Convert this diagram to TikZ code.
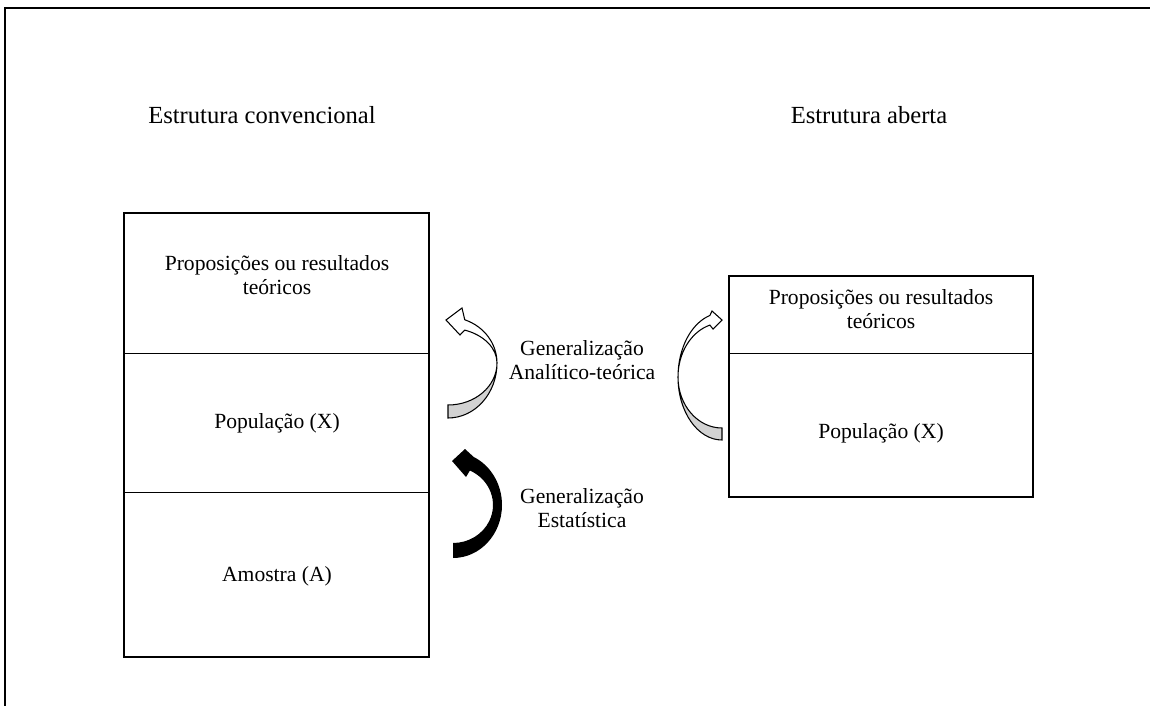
\documentclass[tikz,border=0pt]{standalone}
\usepackage{fontspec}
\setmainfont{Liberation Serif}
\usepackage{tikz}
\usetikzlibrary{calc, positioning}

\begin{document}
\begin{tikzpicture}[x=0.02cm, y=0.02cm]
	\tikzstyle{frame}=[line width=1.2pt]
	\tikzstyle{boxc}=[line width=1.4pt]
	\tikzstyle{sepc}=[line width=0.5pt]
	\tikzstyle{titlec}=[font=\fontsize{14}{17}\selectfont]
	\tikzstyle{lblc}=[align=center, font=\fontsize{12.3}{13.8}\selectfont]
	\tikzstyle{arrc}=[line width=0.6pt, draw=black]
	\useasboundingbox (0,0) rectangle (1150,-706);
	
	% outer frame
	\draw[frame] (5,-706) -- (5,-8) -- (1150,-8);
	
	% titles
	\node[titlec] (tconv) at (262,-115) {Estrutura convencional};
	\node[titlec] (taberta) at (869,-115) {Estrutura aberta};
	
	% conventional structure
	\draw[sepc] (124,-353) -- (429,-353);
	\draw[sepc] (124,-492) -- (429,-492);
	\draw[boxc] (124,-213) rectangle (429,-657);
	\node[lblc] (propc) at (277,-275) {Proposições ou resultados\\teóricos};
	\node[lblc] (popc) at (277,-423) {População (X)};
	\node[lblc] (amoc) at (277,-576) {Amostra (A)};
	
	% open structure
	\draw[sepc] (729,-353) -- (1033,-353);
	\draw[boxc] (729,-276) rectangle (1033,-497);
	\node[lblc] (propa) at (881,-309) {Proposições ou resultados\\teóricos};
	\node[lblc] (popa) at (881,-433) {População (X)};
	
	% generalisation labels
	\node[lblc] (genat) at (582,-360) {Generalização\\Analítico-teórica};
	\node[lblc] (genest) at (582,-508) {Generalização\\Estatística};
	
	% curved arrows
	\coordinate (cw) at (448,-363);
	\coordinate (cb) at (453,-505);
	\coordinate (cr) at (722,-377);
	
	\draw[arrc, fill=gray!35] ($(cw)+(-90:49 and 55)$) arc[start angle=-90, end angle=0, x radius=49, y radius=55]
		arc[start angle=0, end angle=-90, x radius=49, y radius=42] -- cycle;
	\draw[arrc, fill=white] ($(cw)+(0:49 and 46)$) arc[start angle=0, end angle=70, x radius=49, y radius=46]
		-- (462,-308) -- (446,-320) -- (460,-335)
		-- ($(cw)+(70:49 and 35)$) arc[start angle=70, end angle=0, x radius=49, y radius=35] -- cycle;
	
	\fill ($(cb)+(-90:49 and 53)$) arc[start angle=-90, end angle=65, x radius=49, y radius=53]
		-- (465,-449) -- (452,-461) -- (466,-477)
		-- ($(cb)+(65:40 and 38)$) arc[start angle=65, end angle=-90, x radius=40, y radius=38] -- cycle;
	
	\draw[arrc, fill=gray!35] ($(cr)+(270:44 and 63)$) arc[start angle=270, end angle=180, x radius=44, y radius=63]
		arc[start angle=180, end angle=270, x radius=44, y radius=51] -- cycle;
	\draw[arrc, fill=white] ($(cr)+(180:44 and 64)$) arc[start angle=180, end angle=106, x radius=44, y radius=64]
		-- (712,-311) -- (722,-320) -- (713,-329)
		-- ($(cr)+(106:44 and 54)$) arc[start angle=106, end angle=180, x radius=44, y radius=54] -- cycle;
\end{tikzpicture}
\end{document}
